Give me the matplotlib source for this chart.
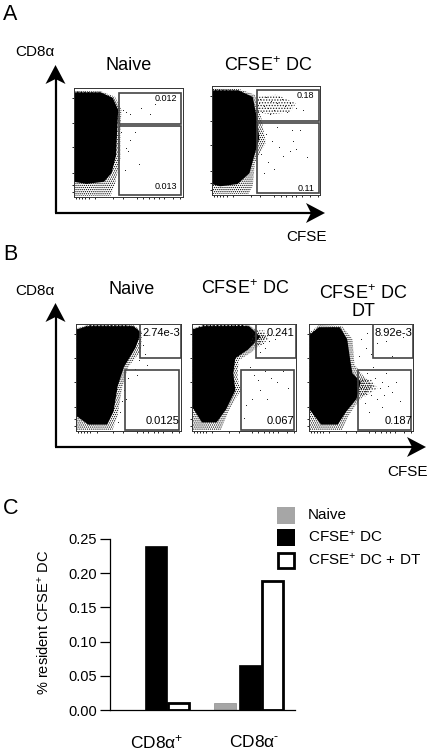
import matplotlib
matplotlib.use("Agg")
import matplotlib.pyplot as plt
from matplotlib.patches import Polygon, Rectangle

plt.rcParams['font.family'] = ['Liberation Sans', 'DejaVu Sans']
plt.rcParams['mathtext.fontset'] = 'custom'
plt.rcParams['mathtext.rm'] = 'Liberation Sans'
plt.rcParams['mathtext.default'] = 'rm'
plt.rcParams['hatch.linewidth'] = 0.6

# panel C values
groups = ['CD8α$^{+}$', 'CD8α$^{\\text{-}}$']
naive = [0.001, 0.011]
cfse_dc = [0.24, 0.066]
cfse_dc_dt = [0.011, 0.189]
c_ticks = [0.00, 0.05, 0.10, 0.15, 0.20, 0.25]

# gate numbers
a_vals = [('0.012', '0.013'), ('0.18', '0.11')]
b_vals = [('2.74e-3', '0.0125'), ('0.241', '0.067'), ('8.92e-3', '0.187')]
a_titles = ['Naive', 'CFSE$^{+}$ DC']
b_titles = ['Naive', 'CFSE$^{+}$ DC', 'CFSE$^{+}$ DC\nDT']

a1_core = [(0,95),(24,94),(33,89),(38,80),(37,61),(36,43),(33,28),(27,21),(12,19),(2,21),(0,21)]
a1_mid = [(0,96),(25,96),(36,91),(41,80),(40,60),(39,38),(35,22),(28,14),(12,12),(0,14)]
a1_halo = [(0,97),(25,97),(38,92),(44,80),(43,60),(43,35),(38,12),(34,1),(0,1)]
a2_core = [(0,95),(24,94),(34,88),(37,70),(39,55),(36,40),(31,24),(22,17),(8,18),(0,24)]
a2_mid = [(0,96),(25,96),(38,90),(42,70),(44,52),(40,38),(35,20),(24,10),(8,8),(0,10)]
a2_halo = [(0,98),(26,97),(40,92),(46,70),(50,48),(40,30),(38,8),(34,1),(0,1)]
a2_cloud = [(42,90),(60,92),(78,84),(72,76),(55,74),(42,76)]
b1_core = [(1,92),(12,97),(50,97),(59,93),(53,79),(42,63),(36,45),(31,23),(23,13),(12,14),(4,26),(1,45)]
b1_mid = [(1,95),(12,98),(55,98),(62,92),(57,78),(46,60),(40,42),(36,18),(30,6),(12,6),(1,14)]
b1_halo = [(1,96),(12,99),(55,99),(63,93),(62,75),(50,60),(44,40),(40,15),(35,1),(0,1)]
b2_core = [(2,92),(10,97),(50,98),(60,90),(50,79),(38,70),(36,55),(38,38),(30,25),(22,17),(12,20),(2,35)]
b2_mid = [(1,95),(12,98),(55,98),(66,88),(54,76),(42,68),(40,54),(42,38),(33,20),(24,8),(10,8),(1,22)]
b2_halo = [(1,96),(12,99),(55,99),(72,88),(58,74),(45,66),(44,50),(47,38),(36,20),(28,1),(0,1)]
b2_cloud = [(58,94),(70,94),(74,86),(64,78),(56,82)]
b3_core = [(3,86),(10,94),(26,95),(32,86),(36,68),(38,52),(46,44),(43,33),(34,25),(26,15),(18,13),(8,22),(2,40)]
b3_mid = [(1,90),(10,97),(30,97),(37,86),(40,66),(42,54),(50,46),(46,30),(36,18),(28,6),(12,6),(1,20)]
b3_halo = [(1,92),(10,99),(32,98),(42,86),(44,62),(52,52),(62,42),(48,28),(38,14),(32,1),(0,1)]
b3_cloud = [(46,50),(60,48),(66,40),(54,32),(46,36)]

# stray dots outside the dense part, % of panel
a1_dots = [(45,80),(48,78),(52,76),(62,82),(70,76),(48,45),(52,52),(50,42),(60,30),(47,25),(44,60),(75,85),(56,60)]
a2_dots = [(45,88),(50,90),(55,86),(60,84),(48,82),(52,80),(65,88),(72,84),(78,80),(58,78),(44,84),(62,90),(68,82),
           (47,76),(54,74),(70,76),(84,78),(50,56),(56,50),(62,44),(72,40),(78,42),(66,36),(52,30),(48,20),(58,24),
           (75,50),(82,60),(88,35),(46,38),(60,62),(74,60)]
b1_dots = [(64,80),(66,72),(60,66),(56,58),(50,50),(46,38),(44,28),(42,18),(48,30),(40,8),(68,62),(58,52)]
b2_dots = [(68,82),(70,78),(74,84),(72,90),(66,74),(80,86),(56,60),(60,52),(64,48),(70,56),(76,50),(82,46),(66,38),
           (58,30),(52,24),(72,30),(88,56),(92,40),(50,12)]
b3_dots = [(50,86),(55,78),(60,72),(48,70),(66,82),(56,92),(74,84),(80,70),(90,88),(56,54),(64,50),(70,46),(76,42),
           (68,40),(60,34),(66,30),(72,34),(80,36),(84,46),(54,26),(58,18),(70,22),(88,28),(50,40),(74,54),(62,60)]

# x tick spots (log axis look) along the panels, %
log_ticks = [2, 5, 8, 11, 14, 20, 36, 45, 58, 64, 69, 74, 78, 83, 91, 98]
left_ticks = [5, 11, 22, 46, 68, 91]

fig = plt.figure(figsize=(4.30, 7.51), dpi=100)
W, H = 430.0, 751.0

bg = fig.add_axes([0, 0, 1, 1])
bg.set_xlim(0, W)
bg.set_ylim(H, 0)
bg.axis('off')


def arrow(x0, y0, x1, y1):
    bg.plot([x0, x1], [y0, y1], color='k', lw=1.6, solid_capstyle='butt')
    if x0 == x1:
        bg.add_patch(Polygon([(x1, y1-13), (x1-10, y1+6), (x1, y1+1), (x1+10, y1+6)], fc='k', ec='none'))
    else:
        bg.add_patch(Polygon([(x1+13, y1), (x1-6, y1-10), (x1-1, y1), (x1-6, y1+10)], fc='k', ec='none'))


def facs(box, core, mid, halo, dots, gates, vals, fs, val_pos, cloud=None):
    x0, y0, x1, y1 = box
    ax = fig.add_axes([x0/W, 1-y1/H, (x1-x0)/W, (y1-y0)/H])
    ax.set_xlim(0, 100)
    ax.set_ylim(0, 100)
    ax.add_patch(Polygon(halo, fc='none', ec='k', lw=0, hatch='........', zorder=1))
    ax.add_patch(Polygon(mid, fc='none', ec='k', lw=0, hatch='OOOOOOOO', zorder=1))
    if cloud:
        ax.add_patch(Polygon(cloud, fc='none', ec='#222222', lw=0, hatch='......', zorder=1))
    # dotted thick edge so the blob has a grainy border
    ax.add_patch(Polygon(core, fc='k', ec='k', lw=3, ls=(0, (0.35, 0.5)), zorder=2))
    ax.scatter([d[0] for d in dots], [d[1] for d in dots], s=0.4, c='k', lw=0, zorder=2)
    for g in gates:
        ax.add_patch(Rectangle((g[0], g[1]), g[2]-g[0], g[3]-g[1], fc='none', ec='#444444', lw=1.2, zorder=3))
    ax.text(val_pos[0], val_pos[1], vals[0], fontsize=fs, ha='right', va='center', zorder=4)
    ax.text(val_pos[0], val_pos[2], vals[1], fontsize=fs, ha='right', va='center', zorder=4)
    ax.set_xticks(log_ticks)
    ax.set_yticks(left_ticks)
    ax.tick_params(length=1.5, width=0.6, labelbottom=False, labelleft=False, pad=0)
    for s in ax.spines.values():
        s.set_linewidth(0.7)
        s.set_color('#333333')


# panel A
bg.text(3, 14, 'A', fontsize=15.5, va='center')
bg.text(15, 52, 'CD8α', fontsize=11, va='center')
arrow(55.5, 213, 55.5, 78)
arrow(55, 213, 312, 213)
bg.text(286, 237, 'CFSE', fontsize=11, va='center')
bg.text(129, 66, a_titles[0], fontsize=13, ha='center', va='center')
bg.text(268, 66, a_titles[1], fontsize=13, ha='center', va='center')
facs((73.5, 88, 182.5, 197), a1_core, a1_mid, a1_halo, a1_dots,
     [(42, 67, 99, 95), (42, 2, 99, 65)], a_vals[0], 6.5, (95, 90, 10))
facs((211.5, 86, 320, 195), a2_core, a2_mid, a2_halo, a2_dots,
     [(42, 68, 99, 96), (42, 2, 99, 66)], a_vals[1], 6.5, (95, 91, 6), a2_cloud)

# panel B
bg.text(3, 254, 'B', fontsize=15.5, va='center')
bg.text(15, 291, 'CD8α', fontsize=11, va='center')
arrow(55.5, 447, 55.5, 316)
arrow(55, 447, 413, 447)
bg.text(387, 472, 'CFSE', fontsize=11, va='center')
bg.text(132, 289, b_titles[0], fontsize=13, ha='center', va='center')
bg.text(245, 289, b_titles[1], fontsize=13, ha='center', va='center')
bg.text(363, 302, b_titles[2], fontsize=13, ha='center', va='center', linespacing=1.0)
b_gates = [(61.5, 68, 100, 100), (47, 1, 98, 57)]
facs((75.5, 324, 181, 431), b1_core, b1_mid, b1_halo, b1_dots, b_gates, b_vals[0], 8, (99, 92, 9))
facs((191.5, 324, 296, 431), b2_core, b2_mid, b2_halo, b2_dots, b_gates, b_vals[1], 8, (98, 92, 9), b2_cloud)
facs((308.5, 324, 413, 431), b3_core, b3_mid, b3_halo, b3_dots, b_gates, b_vals[2], 8, (99, 92, 9), b3_cloud)

# panel C
bg.text(3, 509, 'C', fontsize=15.5, va='center')
ax = fig.add_axes([109.5/W, 1-710.3/H, 185.5/W, 171.6/H])
ax.patch.set_alpha(0)
ax.set_xlim(0, 185.5)
ax.set_ylim(0, 0.25)
width = 22
pos_naive = [22.5, 115]
pos_dc = [46, 140]
pos_dt = [68.5, 162.5]
ax.bar(pos_naive, naive, width, color='#a6a6a6', ec='#8c8c8c', lw=0.5)
ax.bar(pos_dc, cfse_dc, width, color='k', ec='k', lw=0.5)
ax.bar(pos_dt, cfse_dc_dt, width-1, color='white', ec='k', lw=2)
ax.set_yticks(c_ticks)
ax.set_yticklabels(['%.2f' % t for t in c_ticks], fontsize=10.5)
ax.set_xticks([])
ax.tick_params(axis='y', length=7, width=0.9, pad=2)
for s in ['top', 'right']:
    ax.spines[s].set_visible(False)
for s in ['left', 'bottom']:
    ax.spines[s].set_linewidth(0.9)
bg.text(44, 622, '% resident CFSE$^{+}$ DC', fontsize=10.5, rotation=90, ha='center', va='center')
bg.text(157, 742, groups[0], fontsize=12.5, ha='center', va='center')
bg.text(254, 742, groups[1], fontsize=12.5, ha='center', va='center')

# legend
bg.add_patch(Rectangle((277, 507), 17.5, 16.5, fc='#a6a6a6', ec='none'))
bg.add_patch(Rectangle((277, 529), 17.5, 17, fc='k', ec='none'))
bg.add_patch(Rectangle((278, 553), 15.5, 15, fc='white', ec='k', lw=2))
bg.text(308, 515, 'Naive', fontsize=11, va='center')
bg.text(308, 537, 'CFSE$^{+}$ DC', fontsize=11, va='center')
bg.text(308, 560, 'CFSE$^{+}$ DC + DT', fontsize=11, va='center')

fig.savefig('out.png', dpi=100)
